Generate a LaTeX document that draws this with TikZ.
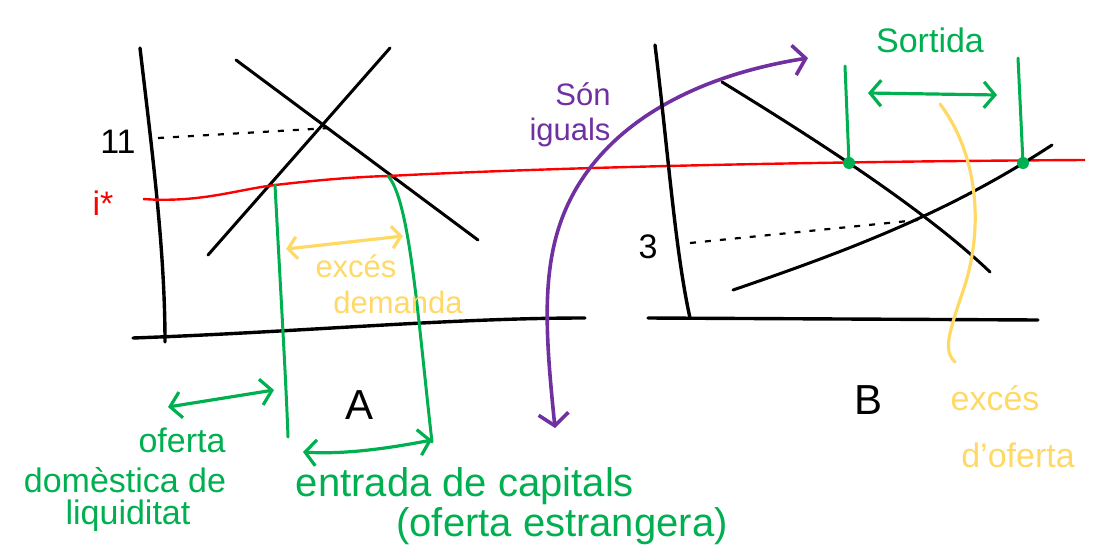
\documentclass[tikz,border=0pt]{standalone}
\usepackage{fontspec}
\setmainfont{Liberation Sans}
\usetikzlibrary{arrows.meta}
\definecolor{hgreen}{RGB}{0,176,80}
\definecolor{hyellow}{RGB}{255,217,102}
\definecolor{hpurple}{RGB}{112,48,160}
\definecolor{hred}{RGB}{255,0,0}
\tikzset{
  axisline/.style={black, line width=3.4pt, line cap=round},
  curveline/.style={black, line width=3pt, line cap=round},
  levelline/.style={black, line width=2.2pt, dash pattern=on 6pt off 9pt},
  rateline/.style={hred, line width=2.4pt},
  gline/.style={hgreen, line width=3pt, line cap=round},
  garrow/.style={hgreen, line width=3.2pt, line cap=round, {Straight Barb[length=11pt,width=26pt]}-{Straight Barb[length=11pt,width=26pt]}},
  yarrow/.style={hyellow, line width=3.2pt, line cap=round, {Straight Barb[length=9pt,width=22pt]}-{Straight Barb[length=9pt,width=22pt]}},
  parrow/.style={hpurple, line width=3.6pt, line cap=round, {Straight Barb[length=12pt,width=30pt]}-{Straight Barb[length=12pt,width=30pt]}},
  ycurve/.style={hyellow, line width=3.2pt, line cap=round},
  gdot/.style={circle, fill=hgreen, inner sep=0pt, minimum size=12pt},
  lbl/.style={inner sep=0pt, font=\fontsize{34}{38}\selectfont},
  glbl/.style={lbl, text=hgreen},
  gbig/.style={glbl, font=\fontsize{40}{44}\selectfont},
  ylbl/.style={lbl, text=hyellow, font=\fontsize{31}{34}\selectfont},
  plbl/.style={lbl, text=hpurple, font=\fontsize{31}{34}\selectfont},
}
\begin{document}
\begin{tikzpicture}[x=1pt,y=-1pt]
\useasboundingbox (0,0) rectangle (1100,557);
% ---------- panel A ----------
\coordinate (ay0) at (140,48);
\coordinate (ay1) at (165,342);
\coordinate (ax0) at (133,338);
\coordinate (ax1) at (585,318);
\draw[axisline] (ay0) .. controls (152,150) and (165,250) .. (ay1);
\draw[axisline] (ax0) .. controls (300,332) and (450,318) .. (ax1);
\coordinate (ad0) at (236,60);
\coordinate (ad1) at (478,240);
\coordinate (as0) at (208,255);
\coordinate (as1) at (390,48);
\draw[curveline] (ad0) -- (ad1);
\draw[curveline] (as0) -- (as1);
\node[lbl] (n11) at (118,142) {11};
\coordinate (d11s) at (158,138);
\coordinate (d11) at (330,128);
\draw[levelline] (d11s) -- (d11);
% red rate line
\node[lbl, text=hred] (istar) at (103,203) {i*};
\coordinate (r0) at (143,199);
\coordinate (rA1) at (275,185);
\coordinate (rA2) at (388,176);
\coordinate (r1) at (1085,160);
\draw[rateline] (r0) .. controls (200,203) and (235,190) .. (rA1) .. controls (310,181) and (350,177) .. (rA2) .. controls (600,165) and (900,161) .. (r1);
% green verticals
\coordinate (g1b) at (288,437);
\coordinate (g2b) at (432,442);
\draw[gline] (rA1) .. controls (280,280) and (286,380) .. (g1b);
\draw[gline] (rA2) .. controls (410,200) and (418,320) .. (g2b);
% excess demand
\coordinate (ye0) at (286,249);
\coordinate (ye1) at (403,236);
\draw[yarrow] (ye0) -- (ye1);
\node[ylbl] (excA) at (356,266) {excés};
\node[ylbl] (demA) at (398,302) {demanda};
\node[lbl, font=\fontsize{42}{46}\selectfont] (A) at (360,405) {A};
% domestic supply
\coordinate (gd0) at (168,407);
\coordinate (gd1) at (274,390);
\draw[garrow] (gd0) -- (gd1);
\node[glbl] (of1) at (182,440) {oferta};
\node[glbl] (dom) at (125,480) {domèstica de};
\node[glbl] (liq) at (128,516) {liquiditat};
% capital inflow
\coordinate (gc0) at (303,452);
\coordinate (gc1) at (432,440);
\draw[garrow] (gc0) .. controls (350,455) and (400,446) .. (gc1);
\node[gbig] (entr) at (465,486) {entrada de capitals};
\node[gbig] (estr) at (562,526) {(oferta estrangera)};
% ---------- purple arrow ----------
\coordinate (p0) at (555,428);
\coordinate (pm) at (570,200);
\coordinate (p1) at (808,58);
\draw[parrow] (p0) .. controls (545,330) and (540,260) .. (pm) .. controls (610,120) and (700,75) .. (p1);
\node[plbl] (son) at (583,94) {Són};
\node[plbl] (igu) at (570,132) {iguals};
% ---------- panel B ----------
\coordinate (by0) at (655,45);
\coordinate (by1) at (690,318);
\coordinate (bx0) at (648,318);
\coordinate (bx1) at (1038,320);
\draw[axisline] (by0) .. controls (668,150) and (675,250) .. (by1);
\draw[axisline] (bx0) -- (bx1);
\coordinate (bd0) at (722,82);
\coordinate (bd1) at (990,272);
\coordinate (bs0) at (733,290);
\coordinate (bs1) at (1052,145);
\draw[curveline] (bd0) .. controls (800,130) and (920,205) .. (bd1);
\draw[curveline] (bs0) .. controls (850,250) and (950,212) .. (bs1);
\node[lbl] (n3) at (648,247) {3};
\coordinate (d3s) at (690,243);
\coordinate (d3e) at (918,220);
\draw[levelline] (d3s) -- (d3e);
\node[gdot] (dot1) at (849,163) {};
\node[gdot] (dot2) at (1023,163) {};
\coordinate (gv1) at (845,66);
\coordinate (gv2) at (1018,58);
\draw[gline] (gv1) -- (dot1.center);
\draw[gline] (gv2) -- (dot2.center);
\coordinate (gs0) at (868,93);
\coordinate (gs1) at (997,95);
\draw[garrow] (gs0) -- (gs1);
\node[glbl] (sort) at (930,40) {Sortida};
\coordinate (yc0) at (940,104);
\coordinate (yc1) at (955,362);
\draw[ycurve] (yc0) .. controls (975,150) and (985,220) .. (965,285) .. controls (950,330) and (942,350) .. (yc1);
\node[ylbl, font=\fontsize{34}{38}\selectfont] (excB) at (995,398) {excés};
\node[ylbl, font=\fontsize{34}{38}\selectfont] (dof) at (1018,455) {d'oferta};
\node[lbl, font=\fontsize{42}{46}\selectfont] (B) at (868,400) {B};
\end{tikzpicture}
\end{document}
